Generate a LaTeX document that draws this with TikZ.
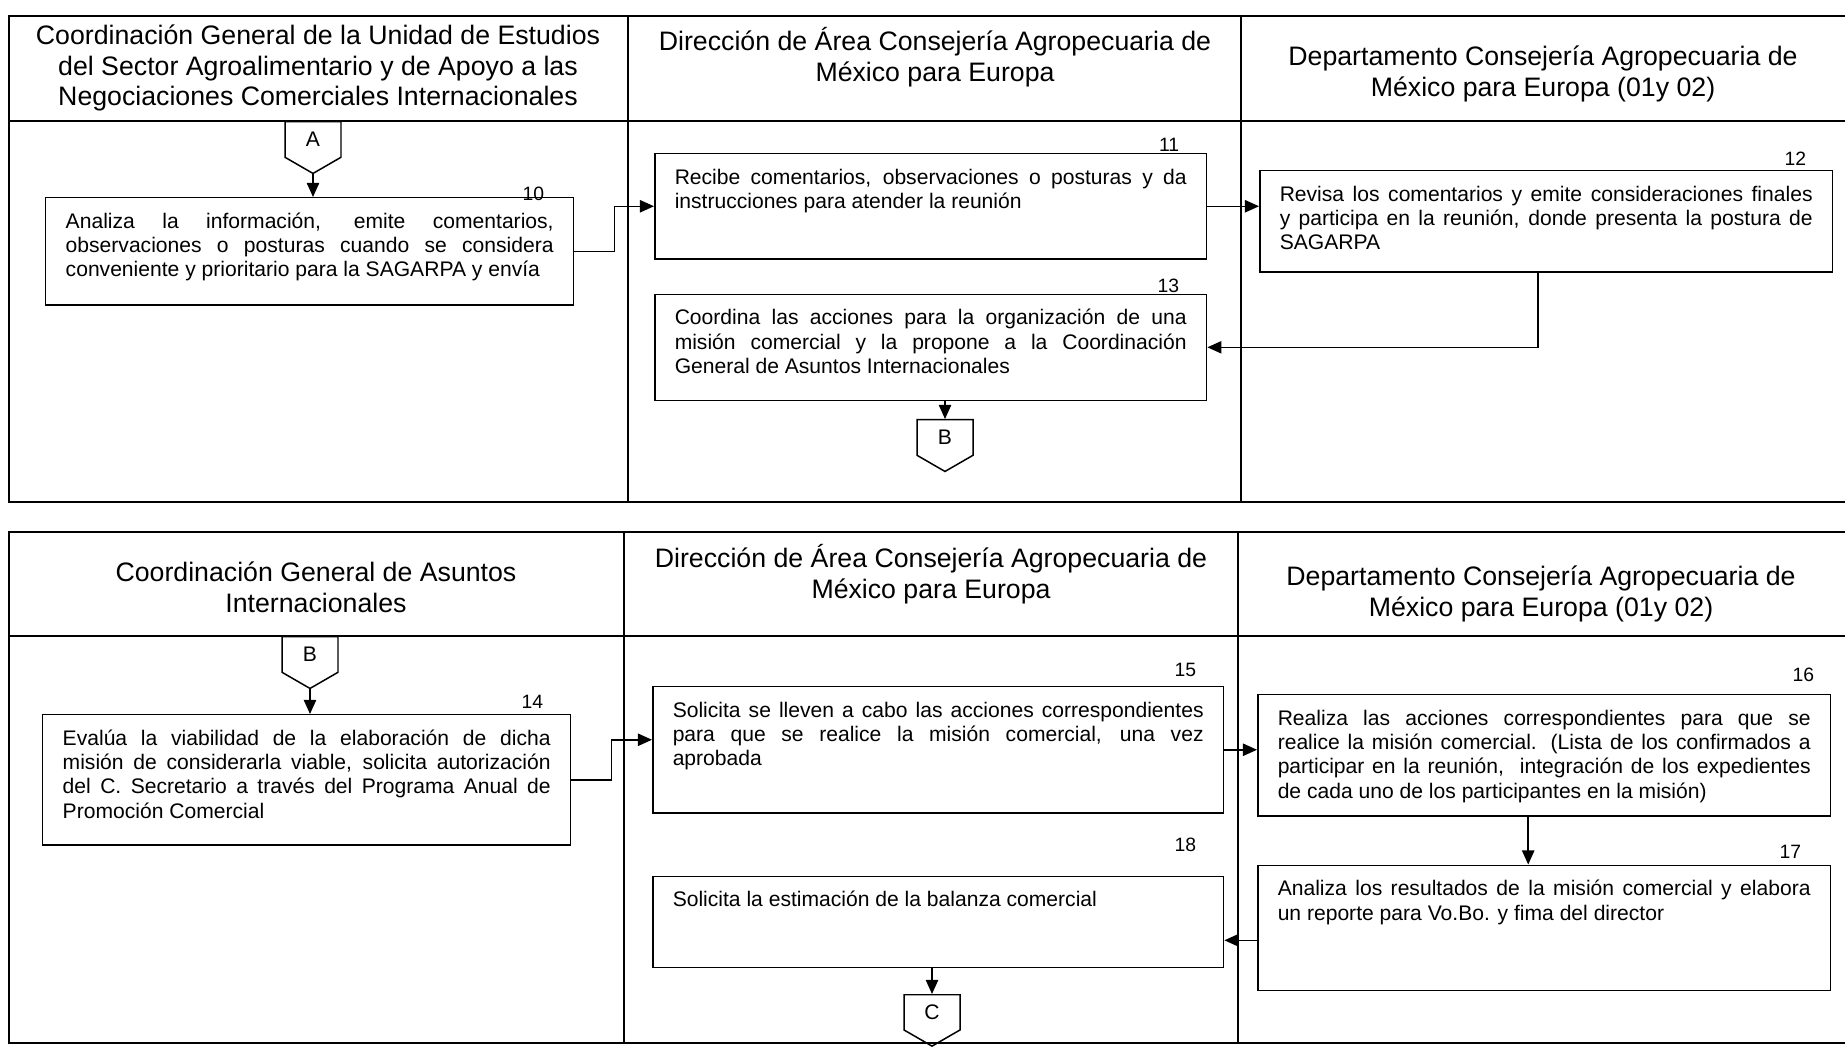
\documentclass[tikz,border=0pt]{standalone}
\usepackage{fontspec}
\setmainfont{Liberation Sans}
\usepackage{tikz}
\usetikzlibrary{arrows.meta}
\usetikzlibrary{calc}
\usetikzlibrary{positioning}
\usetikzlibrary{shapes.symbols}

\tikzset{
	linea/.style={line width=1.2pt},
	paso/.style={draw,rectangle,line width=0.85pt,anchor=north west,align=justify,text width=#1,text height=10pt,inner xsep=0.4cm,inner ysep=0.26cm,font=\fontsize{12}{13.8}\selectfont},
	encabezado/.style={align=center,font=\fontsize{15.2}{17.6}\selectfont},
	conector/.style={draw,signal,signal to=south,signal pointer angle=120,minimum width=1.12cm,minimum height=0.86cm,line width=0.85pt,anchor=north,font=\fontsize{12}{14}\selectfont},
	num/.style={anchor=base east,font=\fontsize{11}{13}\selectfont},
	flecha/.style={-{Triangle[length=8pt,width=7pt]},line width=0.85pt},
}

\begin{document}
\begin{tikzpicture}[x=0.02cm,y=-0.02cm]
		\useasboundingbox (0,0) rectangle (1845,1053);

		% tabla superior
		\draw [linea] (1845,16) -- (9,16) -- (9,502) -- (1845,502);
		\draw [linea] (9,121) -- (1845,121);
		\draw [linea] (628,16) -- (628,502);
		\draw [linea] (1241,16) -- (1241,502);

		\node [encabezado] (h1) at (318,68) {Coordinación General de la Unidad de Estudios\\del Sector Agroalimentario y de Apoyo a las\\Negociaciones Comerciales Internacionales};
		\node [encabezado] (h2) at (935,57) {Dirección de Área Consejería Agropecuaria de\\México para Europa};
		\node [encabezado] (h3) at (1543,74) {Departamento Consejería Agropecuaria de\\México para Europa (01y 02)};

		\node [conector] (conA) at (313,121) {A};
		\node [paso=9.76cm,text depth=1.27cm] (b10) at (45,197) {Analiza la información, emite comentarios,\linebreak observaciones o posturas cuando se considera\linebreak conveniente y prioritario para la SAGARPA y envía};
		\node [paso=10.24cm,text depth=1.23cm] (b11) at (654,153) {Recibe comentarios, observaciones o posturas y da\linebreak instrucciones para atender la reunión};
		\node [paso=10.66cm,text depth=1.15cm] (b12) at (1259,170) {Revisa los comentarios y emite consideraciones finales\linebreak y participa en la reunión, donde presenta la postura de\linebreak SAGARPA};
		\node [paso=10.24cm,text depth=1.25cm,below=0.68cm of b11] (b13) {Coordina las acciones para la organización de una\linebreak misión comercial y la propone a la Coordinación\linebreak General de Asuntos Internacionales};
		\node [conector] (conB1) at (945,419) {B};

		\node [num] at ([xshift=-0.48cm,yshift=-0.07cm]b10.north east) {10};
		\node [num] at ([xshift=-0.44cm,yshift=0.03cm]b11.north east) {11};
		\node [num] at ([xshift=-0.42cm,yshift=0.09cm]b12.north east) {12};
		\node [num] at ([xshift=-0.44cm,yshift=0.03cm]b13.north east) {13};

		\draw [flecha] (conA.south) -- (conA.south |- b10.north);
		\draw [flecha] (b10.east) -- ++(40,0) |- (b11.west);
		\draw [flecha] (b11.east) -- (b11.east -| b12.west);
		\draw [flecha] ([xshift=-0.16cm]b12.south) |- (b13.east);
		\draw [flecha] (b13.south -| conB1.north) -- (conB1.north);

		% tabla inferior
		\draw [linea] (1845,532) -- (9,532) -- (9,1043) -- (1845,1043);
		\draw [linea] (9,636) -- (1845,636);
		\draw [linea] (624,532) -- (624,1043);
		\draw [linea] (1238,532) -- (1238,1043);

		\node [encabezado] (h4) at (316,587) {Coordinación General de Asuntos\\Internacionales};
		\node [encabezado] (h5) at (931,574) {Dirección de Área Consejería Agropecuaria de\\México para Europa};
		\node [encabezado] (h6) at (1541,594) {Departamento Consejería Agropecuaria de\\México para Europa (01y 02)};

		\node [conector] (conB2) at (310,636) {B};
		\node [paso=9.76cm,text depth=1.73cm] (b14) at (42,714) {Evalúa la viabilidad de la elaboración de dicha\linebreak misión de considerarla viable, solicita autorización\linebreak del C. Secretario a través del Programa Anual de\linebreak Promoción Comercial};
		\node [paso=10.62cm,text depth=1.65cm] (b15) at (652,686) {Solicita se lleven a cabo las acciones correspondientes\linebreak para que se realice la misión comercial, una vez\linebreak aprobada};
		\node [paso=10.66cm,text depth=1.55cm] (b16) at (1257,694) {Realiza las acciones correspondientes para que se\linebreak realice la misión comercial. (Lista de los confirmados a\linebreak participar en la reunión,~ integración de los expedientes\linebreak de cada uno de los participantes en la misión)};
		\node [paso=10.66cm,text depth=1.63cm,below=0.96cm of b16] (b17) {Analiza los resultados de la misión comercial y elabora\linebreak un reporte para Vo.Bo. y fima del director};
		\node [paso=10.62cm,text depth=0.95cm,below=1.24cm of b15] (b18) {Solicita la estimación de la balanza comercial};
		\node [conector] (conC) at (932,994) {C};

		\node [num] at ([xshift=-0.44cm,yshift=0.11cm]b14.north east) {14};
		\node [num] at ([xshift=-0.44cm,yshift=0.19cm]b15.north east) {15};
		\node [num] at ([xshift=-0.22cm,yshift=0.25cm]b16.north east) {16};
		\node [num] at ([xshift=-0.48cm,yshift=0.13cm]b17.north east) {17};
		\node [num] at ([xshift=-0.44cm,yshift=0.49cm]b18.north east) {18};

		\draw [flecha] (conB2.south) -- (conB2.south |- b14.north);
		\draw [flecha] (b14.east) -- ++(40,0) |- ([yshift=0.2cm]b15.west);
		\draw [flecha] (b15.east) -- (b15.east -| b16.west);
		\draw [flecha] ([xshift=-0.32cm]b16.south) -- ([xshift=-0.32cm]b16.south |- b17.north);
		\draw [flecha] ([yshift=-0.25cm]b17.west) -- ([yshift=-0.25cm]b17.west -| b18.east);
		\draw [flecha] (b18.south -| conC.north) -- (conC.north);
	\end{tikzpicture}
\end{document}
